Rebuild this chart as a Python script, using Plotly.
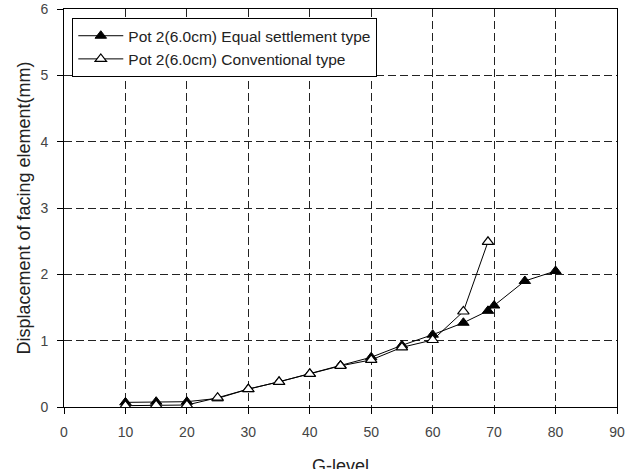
import plotly.graph_objects as go

g_equal = [10, 15, 20, 25, 30, 35, 40, 45, 50, 55, 60, 65, 69, 70, 75, 80]
d_equal = [0.07, 0.08, 0.08, 0.13, 0.27, 0.38, 0.50, 0.63, 0.75, 0.93, 1.09, 1.27, 1.45, 1.53, 1.90, 2.05]
g_conv = [10, 15, 20, 25, 30, 35, 40, 45, 50, 55, 60, 65, 69]
d_conv = [0.02, 0.03, 0.03, 0.14, 0.27, 0.38, 0.50, 0.62, 0.71, 0.90, 1.01, 1.44, 2.49]

x_ticks = [0, 10, 20, 30, 40, 50, 60, 70, 80, 90]
y_ticks = [0, 1, 2, 3, 4, 5, 6]

FONT = "Liberation Sans, Arial"

fig = go.Figure()
fig.add_trace(go.Scatter(
    x=g_equal, y=d_equal, mode="lines+markers",
    name="Pot 2(6.0cm) Equal settlement type",
    line=dict(color="black", width=1),
    marker=dict(symbol="triangle-up", size=10, color="black", line=dict(color="black", width=1)),
))
fig.add_trace(go.Scatter(
    x=g_conv, y=d_conv, mode="lines+markers",
    name="Pot 2(6.0cm) Conventional type",
    line=dict(color="black", width=1),
    marker=dict(symbol="triangle-up", size=10, color="white", line=dict(color="black", width=1.2)),
))

axis_common = dict(
    showline=True, linecolor="black", linewidth=1, mirror=True,
    showgrid=True, gridcolor="#222", gridwidth=1.2, griddash="8px,4px",
    ticks="outside", ticklen=6, tickcolor="black",
    zeroline=False, automargin=False,
    tickfont=dict(family=FONT, size=14, color="#444"),
)

fig.update_xaxes(range=[0, 90], tickvals=x_ticks, ticklabelstandoff=6, **axis_common)
fig.update_yaxes(range=[0, 6], tickvals=y_ticks, ticklabelstandoff=6,
                 title=dict(text="Displacement of facing element(mm)", font=dict(family=FONT, size=18, color="#222"), standoff=5),
                 **axis_common)

fig.add_annotation(text="G-level", xref="paper", yref="paper", x=0.5, y=0,
                   xanchor="center", yanchor="top", yshift=-47, showarrow=False,
                   font=dict(family=FONT, size=18, color="#222"))

fig.update_layout(
    width=629, height=469,
    margin=dict(l=64, r=12, t=9, b=62),
    plot_bgcolor="white", paper_bgcolor="white",
    showlegend=True,
    legend=dict(x=0.015, y=0.977, xanchor="left", yanchor="top",
                bgcolor="white", bordercolor="black", borderwidth=1,
                font=dict(family=FONT, size=15.5, color="#222"),
                tracegroupgap=0, itemwidth=45),
)

fig.write_html("out.html")
